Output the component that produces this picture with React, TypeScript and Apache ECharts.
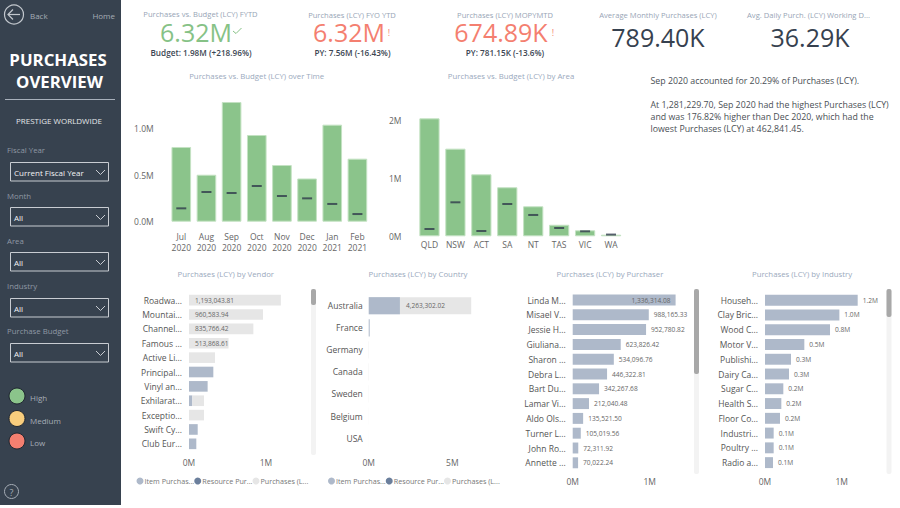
import React, { useEffect, useRef } from "react";
import * as echarts from "echarts";

const FONT = "'Open Sans', 'Noto Sans', sans-serif";

const months = ["Jul\n2020", "Aug\n2020", "Sep\n2020", "Oct\n2020", "Nov\n2020", "Dec\n2020", "Jan\n2021", "Feb\n2021"];
const monthPurchases = [800000, 503000, 1281229.7, 928000, 607000, 462841.45, 1039000, 674890];
const monthBudget = [143000, 318000, 307000, 382000, 275000, 250000, 190000, 82000];

const areas = ["QLD", "NSW", "ACT", "SA", "NT", "TAS", "VIC", "WA"];
const areaPurchases = [2040000, 1516000, 1072000, 848000, 519000, 200000, 104000, 28000];
const areaBudget = [126000, 588000, 92000, 559000, 369000, 144000, 86000, 30000];

const vendors = ["Roadwa...", "Mountai...", "Channel...", "Famous ...", "Active Li...", "Principal...", "Vinyl an...", "Exhilarat...", "Exceptio...", "Swift Cy...", "Club Eur..."];
const vendorItem = [0, 0, 0, 0, 0, 316000, 242000, 43000, 0, 113000, 95000];
const vendorPurchases = [1193043.81, 960583.94, 835766.42, 513868.61, 338000, 0, 0, 152000, 195000, 0, 0];

const countries = ["Australia", "France", "Germany", "Canada", "Sweden", "Belgium", "USA"];
const countryItem = [1870000, 60000, 0, 0, 0, 0, 0];
const countryPurchases = [4263302.02, 0, 15000, 15000, 10000, 5000, 3000];

const purchasers = ["Linda M...", "Misael V...", "Jessie H...", "Giuliana...", "Sharon ...", "Debra L...", "Bart Du...", "Lamar Vi...", "Aldo Ols...", "Turner L...", "John Ro...", "Annette ..."];
const purchaserValues = [1336314.08, 988165.33, 952780.82, 623826.42, 534096.76, 446322.81, 342267.68, 212040.48, 135521.5, 105019.56, 72311.92, 70022.24];

const industries = ["Househ...", "Clay Bric...", "Wood C...", "Motor V...", "Publishi...", "Dairy Ca...", "Sugar C...", "Health S...", "Floor Co...", "Industri...", "Poultry ...", "Radio a..."];
const industryValues = [1209000, 970000, 848000, 513000, 339000, 313000, 239000, 213000, 196000, 113000, 113000, 104000];

const legendNames = ["Item Purchases", "Resource Purchases", "Purchases (LCY)"];
const legendShort = ["Item Purchas...", "Resource Pur...", "Purchases (L..."];
const filters = [
  ["Fiscal Year", "Current Fiscal Year"],
  ["Month", "All"],
  ["Area", "All"],
  ["Industry", "All"],
  ["Purchase Budget", "All"],
];
const statuses = ["High", "Medium", "Low"];
const narrative = [
  "Sep 2020 accounted for 20.29% of Purchases (LCY).",
  "At 1,281,229.70, Sep 2020 had the highest Purchases (LCY)",
  "and was 176.82% higher than Dec 2020, which had the",
  "lowest Purchases (LCY) at 462,841.45.",
];

const C = {
  side: "#37424f",
  green: "#8bc48b",
  greenEdge: "#c4e2c3",
  red: "#f47f70",
  amber: "#f8cd7d",
  item: "#aeb9ca",
  resource: "#6b7f9c",
  grey: "#e6e6e6",
  dark: "#36414f",
  title: "#9aa9bd",
  axis: "#666666",
};

const txt = (text: string, x: number, y: number, size: number, fill: string, align = "left", weight: any = "normal") => ({
  type: "text",
  silent: true,
  style: { text, x, y, fill, font: `${weight} ${size}px ${FONT}`, align, textAlign: align, verticalAlign: "middle", textVerticalAlign: "middle" },
});
const rect = (x: number, y: number, w: number, h: number, fill: string, stroke?: string, r = 0) => ({
  type: "rect",
  silent: true,
  shape: { x, y, width: w, height: h, r },
  style: stroke ? { fill, stroke, lineWidth: 1 } : { fill },
});
const poly = (points: number[][], stroke: string, lineWidth = 1) => ({
  type: "polyline",
  silent: true,
  shape: { points },
  style: { fill: "none", stroke, lineWidth },
});
const circ = (cx: number, cy: number, r: number, fill: string, stroke: string, lineWidth = 1) => ({
  type: "circle",
  silent: true,
  shape: { cx, cy, r },
  style: { fill, stroke, lineWidth },
});

function buildGraphics() {
  const g: any[] = [];
  g.push(rect(0, 0, 121, 505, C.side));
  g.push(circ(14, 14.5, 9.5, "none", "#c3c8ce", 1.2));
  g.push(poly([[8, 14.5], [20, 14.5]], "#c3c8ce", 1.2));
  g.push(poly([[13, 9.5], [8, 14.5], [13, 19.5]], "#c3c8ce", 1.2));
  g.push(txt("Back", 30, 15, 8, "#a6adb6"));
  g.push(txt("Home", 115, 15, 8, "#a6adb6", "right"));
  g.push(txt("PURCHASES", 58, 59, 16.8, "#ffffff", "center", "bold"));
  g.push(txt("OVERVIEW", 59.5, 81, 16.8, "#ffffff", "center", "bold"));
  g.push(rect(5, 99, 110, 1, "#a8b0bb"));
  g.push(txt("PRESTIGE WORLDWIDE", 59, 120.5, 8, "#e4e6e9", "center"));
  const labelY = [150, 195.5, 240.5, 286, 331];
  const boxY = [162.5, 207.5, 252.5, 298.5, 343.5];
  filters.forEach(([label, value], i) => {
    g.push(txt(label, 7, labelY[i], 7.8, "#8f98a4"));
    g.push(rect(10.5, boxY[i], 98, 18.5, "none", "#c8ccd2"));
    g.push(txt(value, 14, boxY[i] + 10, 8, "#f2f3f4"));
    g.push(poly([[96, boxY[i] + 7.5], [100.5, boxY[i] + 12], [105, boxY[i] + 7.5]], "#c8ccd2"));
  });
  const statusColors = [C.green, C.amber, C.red];
  const statusY = [396, 418.5, 441];
  statuses.forEach((s, i) => {
    g.push(circ(17, statusY[i], 8, statusColors[i], "#1f2630", 1));
    g.push(txt(s, 30, statusY[i] + 1.5, 8, "#a6adb6"));
  });
  g.push(circ(11.5, 491.5, 7, "none", "#a6adb6", 1));
  g.push(txt("?", 11.5, 492, 9, "#a6adb6", "center"));

  const title = "#98a5b6";
  g.push(txt("Purchases vs. Budget (LCY) FYTD", 200.5, 14, 7.6, title, "center"));
  g.push(txt("6.32M", 196, 32, 25, "#86c286", "center"));
  g.push(poly([[233, 31], [236, 33.5], [241.5, 28]], "#86c286", 1));
  g.push(txt("Budget: 1.98M (+218.96%)", 201, 52.5, 8.2, "#3c4653", "center", 600));

  g.push(txt("Purchases (LCY) FYO YTD", 352, 15, 7.6, title, "center"));
  g.push(txt("6.32M", 349, 32, 25, C.red, "center"));
  g.push(txt("!", 389, 32, 9, C.red, "center"));
  g.push(txt("PY: 7.56M (-16.43%)", 352.5, 52.5, 8.2, "#3c4653", "center", 600));

  g.push(txt("Purchases (LCY) MOPYMTD", 505, 15, 7.6, title, "center"));
  g.push(txt("674.89K", 501, 32, 25, C.red, "center"));
  g.push(txt("!", 553, 32, 9, C.red, "center"));
  g.push(txt("PY: 781.15K (-13.6%)", 505, 52.5, 8.2, "#3c4653", "center", 600));

  g.push(txt("Average Monthly Purchases (LCY)", 658, 14.5, 7.6, title, "center"));
  g.push(txt("789.40K", 658, 37, 25, C.dark, "center"));
  g.push(txt("Avg. Daily Purch. (LCY) Working D...", 808.5, 14.5, 7.6, title, "center"));
  g.push(txt("36.29K", 810, 37, 25, C.dark, "center"));

  const ny = [81, 104.5, 116.5, 128.5];
  narrative.forEach((line, i) => g.push(txt(line, 650.5, ny[i], 8.8, "#4a4f55")));

  const bars = [
    [311, 289, 455, 305],
    [694, 289, 474, 374],
    [886.5, 289, 474, 317],
  ];
  bars.forEach(([x, top, bottom, thumb]) => {
    g.push(rect(x, top, 5, bottom - top, "#f3f3f3", undefined, 2));
    g.push(rect(x, top, 5, thumb - top, "#a8a8a8", undefined, 2));
  });
  return g;
}

const catLabel = (margin: number) => ({ interval: 0, fontSize: 8.5, color: C.axis, fontFamily: FONT, margin });

const hBarY = (idx: number, data: string[], margin: number) => ({
  type: "category",
  gridIndex: idx,
  data,
  inverse: true,
  axisLine: { show: false },
  axisTick: { show: false },
  axisLabel: { ...catLabel(margin), color: "#555555" },
});
const hBarX = (idx: number, max: number, interval: number, margin: number) => ({
  type: "value",
  gridIndex: idx,
  min: 0,
  max,
  interval,
  splitLine: { show: false },
  axisLine: { show: false },
  axisTick: { show: false },
  axisLabel: {
    fontSize: 8.5,
    color: C.axis,
    fontFamily: FONT,
    margin,
    showMaxLabel: false,
    formatter: (v: number) => `${v / 1e6}M`,
  },
});

const valueLabel = { fontSize: 6.6, color: "#666666", fontFamily: FONT };

function stackedSeries(axis: number, item: number[], purchases: number[], width: string) {
  return [
    {
      name: legendNames[0],
      type: "bar",
      xAxisIndex: axis,
      yAxisIndex: axis,
      stack: `s${axis}`,
      barWidth: width,
      data: item,
      itemStyle: { color: C.item },
    },
    {
      name: legendNames[2],
      type: "bar",
      xAxisIndex: axis,
      yAxisIndex: axis,
      stack: `s${axis}`,
      barWidth: width,
      data: purchases,
      itemStyle: { color: C.grey },
      label: {
        show: true,
        position: "insideLeft",
        distance: 6,
        ...valueLabel,
        formatter: (p: any) =>
          p.value >= 500000 ? p.value.toLocaleString("en-US", { minimumFractionDigits: 2, maximumFractionDigits: 2 }) : "",
      },
    },
  ];
}

function legendAt(left: number) {
  return {
    left,
    top: 477.5,
    orient: "horizontal",
    icon: "circle",
    itemWidth: 7,
    itemHeight: 7,
    itemGap: 0,
    selectedMode: false,
    padding: 0,
    data: [
      { name: legendNames[0], itemStyle: { color: C.item } },
      { name: legendNames[1], itemStyle: { color: C.resource } },
      { name: legendNames[2], itemStyle: { color: C.grey } },
    ],
    formatter: (name: string) => legendShort[legendNames.indexOf(name)],
    textStyle: { fontSize: 7.2, color: "#777777", fontFamily: FONT, width: 45, overflow: "none", padding: [0, 0, 0, -4] },
  };
}

function buildOption() {
  const titleAt = (text: string, left: number, y: number) => ({
    text,
    left,
    top: y - 5,
    textAlign: "center",
    padding: 0,
    textStyle: { fontSize: 7.8, fontWeight: "normal", color: C.title, fontFamily: FONT },
  });
  const vBar = (i: number, values: number[], budget: number[]) => [
    {
      name: "Purchases",
      type: "bar",
      xAxisIndex: i,
      yAxisIndex: i,
      barWidth: "78%",
      data: values,
      itemStyle: { color: C.green, borderColor: C.greenEdge, borderWidth: 1 },
    },
    {
      name: "Budget",
      type: "scatter",
      xAxisIndex: i,
      yAxisIndex: i,
      symbol: "rect",
      symbolSize: [10, 2],
      data: budget,
      itemStyle: { color: "#2f3b4b" },
      z: 5,
    },
  ];
  const vBarY = (i: number, max: number, fmt: (v: number) => string, margin: number) => ({
    type: "value",
    gridIndex: i,
    min: 0,
    max,
    interval: i === 0 ? 500000 : 1000000,
    splitLine: { show: false },
    axisLine: { show: false },
    axisTick: { show: false },
    axisLabel: { fontSize: 8.5, color: C.axis, fontFamily: FONT, margin, showMaxLabel: false, formatter: fmt },
  });
  const vBarX = (i: number, data: string[], margin: number) => ({
    type: "category",
    gridIndex: i,
    data,
    axisLine: { show: false },
    axisTick: { show: false },
    axisLabel: { ...catLabel(margin), lineHeight: 10.5 },
  });
  const outsideLabel = (formatter: (p: any) => string) => ({
    show: true,
    position: "right",
    distance: 5,
    ...valueLabel,
    formatter,
  });
  const money = (p: any) => p.value.toLocaleString("en-US", { minimumFractionDigits: 2, maximumFractionDigits: 2 });
  const mil = (p: any) => `${(p.value / 1e6).toFixed(1)}M`;

  return {
    animation: false,
    backgroundColor: "#ffffff",
    textStyle: { fontFamily: FONT },
    title: [
      titleAt("Purchases vs. Budget (LCY) over Time", 256.7, 76.7),
      titleAt("Purchases vs. Budget (LCY) by Area", 511, 76.7),
      titleAt("Purchases (LCY) by Vendor", 225.8, 274.7),
      titleAt("Purchases (LCY) by Country", 418, 274.7),
      titleAt("Purchases (LCY) by Purchaser", 610, 274.7),
      titleAt("Purchases (LCY) by Industry", 802, 274.7),
    ],
    legend: [legendAt(136.5), legendAt(328)],
    grid: [
      { left: 168.7, top: 81.6, width: 201.3, height: 140.1 },
      { left: 416.5, top: 109.1, width: 207.5, height: 127.2 },
      { left: 189, top: 293, width: 115.5, height: 158 },
      { left: 368.7, top: 294.7, width: 117, height: 154.4 },
      { left: 572.7, top: 292.6, width: 115.5, height: 177.6 },
      { left: 765, top: 292.8, width: 115, height: 177.2 },
    ],
    xAxis: [
      vBarX(0, months, 10),
      vBarX(1, areas, 3),
      hBarX(2, 1500000, 1000000, 7),
      hBarX(3, 7000000, 5000000, 9),
      hBarX(4, 1500000, 1000000, 7),
      hBarX(5, 1500000, 1000000, 7),
    ],
    yAxis: [
      vBarY(0, 1500000, (v) => `${(v / 1e6).toFixed(1)}M`, 15),
      vBarY(1, 2200000, (v) => `${v / 1e6}M`, 15),
      hBarY(2, vendors, 7),
      hBarY(3, countries, 6),
      hBarY(4, purchasers, 7),
      hBarY(5, industries, 7),
    ],
    series: [
      ...vBar(0, monthPurchases, monthBudget),
      ...vBar(1, areaPurchases, areaBudget),
      ...stackedSeries(2, vendorItem, vendorPurchases, "74%"),
      ...stackedSeries(3, countryItem, countryPurchases, "78%"),
      {
        name: legendNames[1],
        type: "bar",
        xAxisIndex: 2,
        yAxisIndex: 2,
        stack: "s2",
        data: [],
        itemStyle: { color: C.resource },
      },
      {
        name: "Purchases by Purchaser",
        type: "bar",
        xAxisIndex: 4,
        yAxisIndex: 4,
        barWidth: "74%",
        data: purchaserValues.map((value, i) =>
          i === 0 ? { value, label: { position: "insideRight", distance: 5 } } : value
        ),
        itemStyle: { color: C.item },
        label: outsideLabel(money),
      },
      {
        name: "Purchases by Industry",
        type: "bar",
        xAxisIndex: 5,
        yAxisIndex: 5,
        barWidth: "74%",
        data: industryValues,
        itemStyle: { color: C.item },
        label: outsideLabel(mil),
      },
    ],
    graphic: buildGraphics(),
  };
}

export default function App() {
  const ref = useRef<HTMLDivElement>(null);
  useEffect(() => {
    document.body.style.margin = "0";
    const chart = echarts.init(ref.current as HTMLDivElement, undefined, { renderer: "svg" });
    chart.setOption(buildOption() as any);
    return () => chart.dispose();
  }, []);
  return <div ref={ref} style={{ width: 900, height: 508 }} />;
}
